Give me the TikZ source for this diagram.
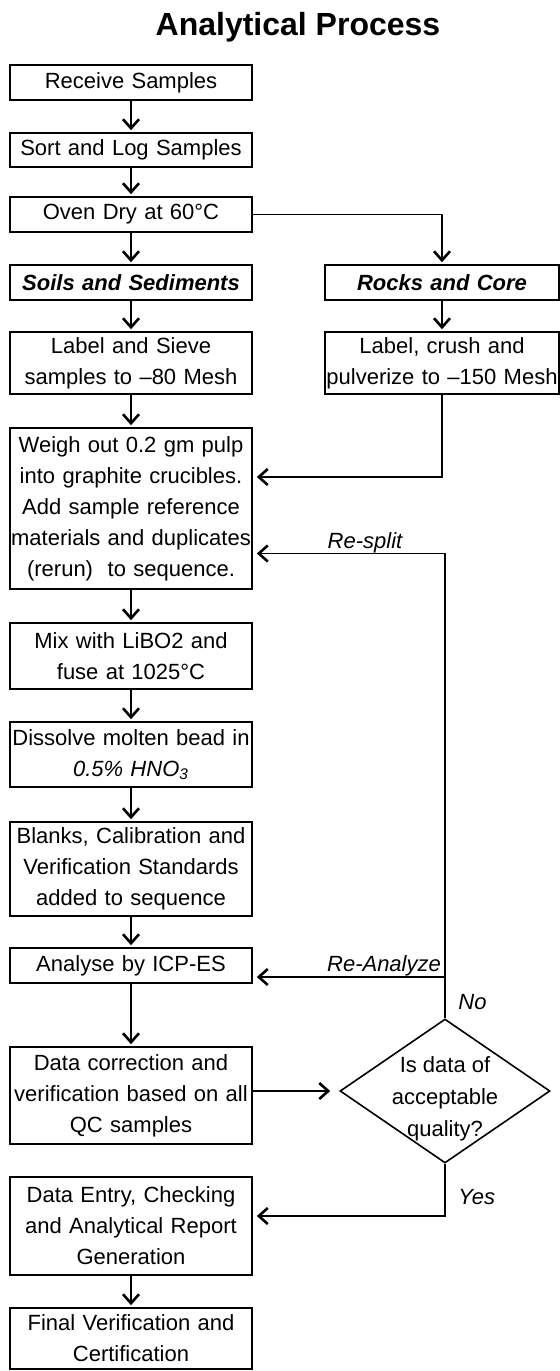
\documentclass[tikz,border=0pt]{standalone}
\usepackage{fontspec}
\setmainfont{Liberation Sans}
\usetikzlibrary{shapes.geometric, positioning, calc, arrows.meta}

\tikzset{
    passo/.style={draw, line width=0.8pt, align=center, inner sep=0pt,
        text width=121pt, font=\fontsize{11}{15.5}\selectfont},
    passodx/.style={passo, text width=117pt},
    decisione/.style={draw, diamond, line width=0.8pt, inner sep=0pt,
        minimum width=105pt, minimum height=72pt},
    freccia/.style={-{Straight Barb[length=4.5pt,width=8pt,line width=1.3pt]}, line width=0.8pt,
        shorten >=1pt},
    etich/.style={font=\fontsize{11}{13}\selectfont\itshape, inner sep=0pt}
}

\begin{document}
\begin{tikzpicture}[x=0.5pt,y=-0.5pt]
    \useasboundingbox (0,0) rectangle (560,1371);
    %titolo
    \node[font=\fontsize{16}{19}\selectfont\bfseries] (titolo) at (298,27) {Analytical Process};
    %colonna sinistra
    \node[passo, minimum height=17.5pt] (ricevi) at (131,82.5) {Receive Samples};
    \node[passo, minimum height=17pt] (ordina) at (131,150) {Sort and Log Samples};
    \node[passo, minimum height=17.5pt] (forno) at (131,214.5) {Oven Dry at 60°C};
    \node[passo, minimum height=17.5pt, font=\fontsize{11}{15.5}\selectfont\bfseries\itshape] (suoli) at (131,282.5) {Soils and Sediments};
    \node[passo, minimum height=31pt] (setaccio) at (131,363) {Label and Sieve\\samples to --80 Mesh};
    \node[passo, minimum height=80.5pt] (pesa) at (131,508.5) {Weigh out 0.2 gm pulp\\into graphite crucibles.\\Add sample reference\\materials and duplicates\\(rerun)\ \ to sequence.};
    \node[passo, minimum height=33pt] (fondi) at (131,656) {Mix with LiBO2 and\\fuse at 1025°C};
    \node[passo, minimum height=32.5pt] (sciogli) at (131,754.5) {Dissolve molten bead in\\\textit{0.5\% HNO\textsubscript{3}}};
    \node[passo, minimum height=47pt] (bianchi) at (131,869) {Blanks, Calibration and\\Verification Standards\\added to sequence};
    \node[passo, minimum height=17.5pt] (analisi) at (131,965.5) {Analyse by ICP-ES};
    \node[passo, minimum height=48.5pt] (correz) at (131,1095.5) {Data correction and\\verification based on all\\QC samples};
    \node[passo, minimum height=49pt] (rapporto) at (131,1226) {Data Entry, Checking\\and Analytical Report\\Generation};
    \node[passo, minimum height=30.5pt] (finale) at (131,1338.5) {Final Verification and\\Certification};
    %colonna destra
    \node[passodx, minimum height=17.5pt, font=\fontsize{11}{15.5}\selectfont\bfseries\itshape] (rocce) at (442,282.5) {Rocks and Core};
    \node[passodx, minimum height=31pt] (frantuma) at (442,363) {Label, crush and\\pulverize to --150 Mesh};
    \node[decisione] (qualita) at (445,1091) {};
    \node[font=\fontsize{11}{16}\selectfont, align=center, inner sep=0pt] (domanda) at (445,1099) {Is data of\\acceptable\\quality?};
    %punti di arrivo
    \path (pesa.east) ++(0,-31.5) coordinate (inrocce);
    \path (pesa.east) ++(0,45) coordinate (inresplit);
    \path (analisi.east) ++(0,11.5) coordinate (inrianalisi);
    \path (rapporto.east) ++(0,-10) coordinate (insi);
    %frecce verticali
    \foreach \a/\b in {ricevi/ordina, ordina/forno, forno/suoli, suoli/setaccio,
        setaccio/pesa, pesa/fondi, fondi/sciogli, sciogli/bianchi, bianchi/analisi,
        analisi/correz, rapporto/finale, rocce/frantuma}
        \draw[freccia] (\a.south) -- (\b.north);
    %rami
    \draw[freccia] (forno.east) -| (rocce.north);
    \draw[freccia, shorten >=2pt] (frantuma.south) |- (inrocce);
    \draw[freccia, shorten >=4.5pt] (correz.east |- qualita.west) -- (qualita.west);
    \draw[freccia, shorten >=2pt] (qualita.north) |- (inresplit);
    \draw[freccia, shorten >=2pt] (inrianalisi -| qualita.north) -- (inrianalisi);
    \draw[freccia, shorten >=2pt] (qualita.south) |- (insi);
    %etichette
    \node[etich, above=1pt] (resplit) at (365,555) {Re-split};
    \node[etich, above=0.3pt] (rianalisi) at (384,977) {Re-Analyze};
    \node[etich, anchor=west] (no) at (458,1002) {No};
    \node[etich, anchor=west] (si) at (458,1197) {Yes};
\end{tikzpicture}
\end{document}
